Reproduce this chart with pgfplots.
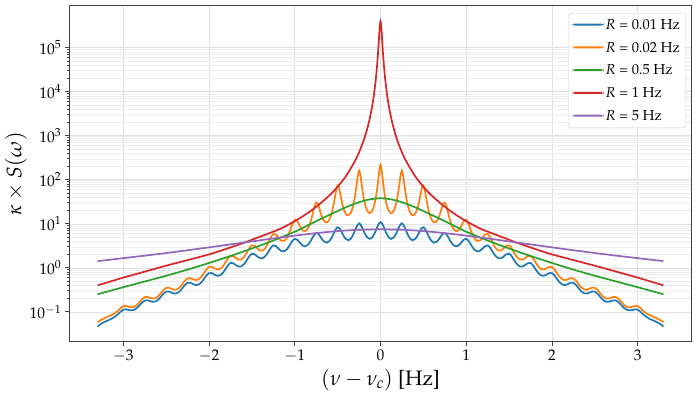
\documentclass[border=0pt]{standalone}
\usepackage[T1]{fontenc}
\usepackage{mathpazo}
\usepackage{pgfplots}
\pgfplotsset{compat=1.18}

\definecolor{tabblue}{HTML}{1F77B4}
\definecolor{taborange}{HTML}{FF7F0E}
\definecolor{tabgreen}{HTML}{2CA02C}
\definecolor{tabred}{HTML}{D62728}
\definecolor{tabpurple}{HTML}{9467BD}

\begin{document}
\begin{tikzpicture}
\useasboundingbox (-69.3bp,-53.3bp) rectangle (628.7bp,341.7bp);
\begin{axis}[
    scale only axis,
    width=622.4bp,
    height=336bp,
    ymode=log,
    xmin=-3.63, xmax=3.63,
    ymin=0.021, ymax=9.0e5,
    xtick={-3,...,3},
    ytick={1e-1,1,1e1,1e2,1e3,1e4,1e5},
    tick pos=left,
    tick align=outside,
    major tick length=4.5bp,
    minor tick length=2.5bp,
    every tick/.style={black!75, line width=0.8bp},
    axis line style={black!75, line width=1bp},
    grid=both,
    major grid style={black!12, line width=0.6bp},
    minor grid style={black!7, line width=0.5bp},
    ticklabel style={font=\fontsize{15.5}{18}\selectfont},
    label style={font=\fontsize{21}{25}\selectfont},
    xlabel={$(\nu-\nu_c)$ [Hz]},
    ylabel={$\kappa\times S(\omega)$},
    ylabel style={yshift=-4bp},
    legend cell align=left,
    legend style={at={(0.991,0.978)}, anchor=north east,
        font=\fontsize{14.5}{17}\selectfont,
        draw=black!20, fill=white,
        rounded corners=2.5bp, row sep=7.3bp, inner xsep=4bp, inner ysep=4bp},
    legend image code/.code={\fill[#1, draw=none] (0bp,-0.5bp) rectangle (31bp,1.5bp);},
]

% R = 0.01 Hz
\addplot[tabblue, line width=1.7bp, smooth] coordinates {
(-3.3,0.046) (-3.28125,0.050) (-3.25,0.055) (-3.21875,0.059) (-3.1875,0.063) (-3.15625,0.067) (-3.125,0.072) (-3.09375,0.079) (-3.0625,0.088) (-3.03125,0.101)
(-3,0.112) (-2.96875,0.114) (-2.9375,0.110) (-2.90625,0.108) (-2.875,0.111) (-2.84375,0.121) (-2.8125,0.140) (-2.78125,0.163)
(-2.75,0.180) (-2.71875,0.183) (-2.6875,0.175) (-2.65625,0.169) (-2.625,0.172) (-2.59375,0.188) (-2.5625,0.219) (-2.53125,0.259)
(-2.5,0.288) (-2.46875,0.290) (-2.4375,0.274) (-2.40625,0.261) (-2.375,0.264) (-2.34375,0.290) (-2.3125,0.341) (-2.28125,0.408)
(-2.25,0.457) (-2.21875,0.460) (-2.1875,0.430) (-2.15625,0.407) (-2.125,0.413) (-2.09375,0.459) (-2.0625,0.548) (-2.03125,0.668)
(-2,0.759) (-1.96875,0.760) (-1.9375,0.703) (-1.90625,0.661) (-1.875,0.670) (-1.84375,0.749) (-1.8125,0.907) (-1.78125,1.125)
(-1.75,1.288) (-1.71875,1.274) (-1.6875,1.157) (-1.65625,1.070) (-1.625,1.076) (-1.59375,1.20) (-1.5625,1.46) (-1.53125,1.82)
(-1.5,2.09) (-1.46875,2.04) (-1.4375,1.82) (-1.40625,1.66) (-1.375,1.65) (-1.34375,1.84) (-1.3125,2.24) (-1.28125,2.82)
(-1.25,3.24) (-1.21875,3.10) (-1.1875,2.70) (-1.15625,2.41) (-1.125,2.37) (-1.09375,2.61) (-1.0625,3.18) (-1.03125,4.00)
(-1,4.57) (-0.96875,4.32) (-0.9375,3.67) (-0.90625,3.19) (-0.875,3.08) (-0.84375,3.37) (-0.8125,4.14) (-0.78125,5.33)
(-0.75,6.17) (-0.71875,5.71) (-0.6875,4.64) (-0.65625,3.91) (-0.625,3.72) (-0.59375,4.09) (-0.5625,5.17) (-0.53125,6.97)
(-0.5,8.32) (-0.46875,7.37) (-0.4375,5.63) (-0.40625,4.55) (-0.375,4.24) (-0.34375,4.67) (-0.3125,6.00) (-0.28125,8.41)
(-0.25,10.23) (-0.21875,8.66) (-0.1875,6.29) (-0.15625,4.94) (-0.125,4.56) (-0.09375,5.00) (-0.0625,6.46) (-0.03125,9.08)
(0,10.96)
(0.03125,9.08) (0.0625,6.46) (0.09375,5.00) (0.125,4.56) (0.15625,4.94) (0.1875,6.29) (0.21875,8.66) (0.25,10.23)
(0.28125,8.41) (0.3125,6.00) (0.34375,4.67) (0.375,4.24) (0.40625,4.55) (0.4375,5.63) (0.46875,7.37) (0.5,8.32)
(0.53125,6.97) (0.5625,5.17) (0.59375,4.09) (0.625,3.72) (0.65625,3.91) (0.6875,4.64) (0.71875,5.71) (0.75,6.17)
(0.78125,5.33) (0.8125,4.14) (0.84375,3.37) (0.875,3.08) (0.90625,3.19) (0.9375,3.67) (0.96875,4.32) (1,4.57)
(1.03125,4.00) (1.0625,3.18) (1.09375,2.61) (1.125,2.37) (1.15625,2.41) (1.1875,2.70) (1.21875,3.10) (1.25,3.24)
(1.28125,2.82) (1.3125,2.24) (1.34375,1.84) (1.375,1.65) (1.40625,1.66) (1.4375,1.82) (1.46875,2.04) (1.5,2.09)
(1.53125,1.82) (1.5625,1.46) (1.59375,1.20) (1.625,1.076) (1.65625,1.070) (1.6875,1.157) (1.71875,1.274) (1.75,1.288)
(1.78125,1.125) (1.8125,0.907) (1.84375,0.749) (1.875,0.670) (1.90625,0.661) (1.9375,0.703) (1.96875,0.760) (2,0.759)
(2.03125,0.668) (2.0625,0.548) (2.09375,0.459) (2.125,0.413) (2.15625,0.407) (2.1875,0.430) (2.21875,0.460) (2.25,0.457)
(2.28125,0.408) (2.3125,0.341) (2.34375,0.290) (2.375,0.264) (2.40625,0.261) (2.4375,0.274) (2.46875,0.290) (2.5,0.288)
(2.53125,0.259) (2.5625,0.219) (2.59375,0.188) (2.625,0.172) (2.65625,0.169) (2.6875,0.175) (2.71875,0.183) (2.75,0.180)
(2.78125,0.163) (2.8125,0.140) (2.84375,0.121) (2.875,0.111) (2.90625,0.108) (2.9375,0.110) (2.96875,0.114) (3,0.112)
(3.03125,0.101) (3.0625,0.088) (3.09375,0.079) (3.125,0.072) (3.15625,0.067) (3.1875,0.063) (3.21875,0.059) (3.25,0.055) (3.28125,0.050) (3.3,0.046)
};
\addlegendentry{$R$ = 0.01 Hz}

% R = 0.02 Hz
\addplot[taborange, line width=1.7bp, smooth] coordinates {
(-3.3,0.058) (-3.28125,0.062) (-3.25,0.067) (-3.21875,0.072) (-3.1875,0.077) (-3.15625,0.082) (-3.125,0.087) (-3.09375,0.094) (-3.0625,0.106) (-3.03125,0.122)
(-3,0.135) (-2.96875,0.137) (-2.9375,0.131) (-2.90625,0.127) (-2.875,0.129) (-2.84375,0.142) (-2.8125,0.165) (-2.78125,0.194)
(-2.75,0.216) (-2.71875,0.219) (-2.6875,0.208) (-2.65625,0.200) (-2.625,0.204) (-2.59375,0.225) (-2.5625,0.264) (-2.53125,0.314)
(-2.5,0.351) (-2.46875,0.353) (-2.4375,0.333) (-2.40625,0.317) (-2.375,0.322) (-2.34375,0.356) (-2.3125,0.423) (-2.28125,0.510)
(-2.25,0.575) (-2.21875,0.584) (-2.1875,0.552) (-2.15625,0.528) (-2.125,0.542) (-2.09375,0.610) (-2.0625,0.739) (-2.03125,0.912)
(-2,1.047) (-1.96875,1.055) (-1.9375,0.980) (-1.90625,0.924) (-1.875,0.940) (-1.84375,1.056) (-1.8125,1.29) (-1.78125,1.61)
(-1.75,1.86) (-1.71875,1.85) (-1.6875,1.67) (-1.65625,1.54) (-1.625,1.55) (-1.59375,1.74) (-1.5625,2.15) (-1.53125,2.76)
(-1.5,3.24) (-1.46875,3.17) (-1.4375,2.78) (-1.40625,2.49) (-1.375,2.47) (-1.34375,2.80) (-1.3125,3.59) (-1.28125,4.86)
(-1.25,5.89) (-1.21875,5.68) (-1.1875,4.76) (-1.15625,4.15) (-1.125,4.11) (-1.09375,4.73) (-1.0625,6.38) (-1.03125,9.45)
(-1,12.3) (-0.984375,12.4) (-0.96875,11.4) (-0.953125,9.93) (-0.9375,8.64) (-0.921875,7.68) (-0.90625,7.09) (-0.890625,6.84)
(-0.875,6.92) (-0.859375,7.29) (-0.84375,8.09) (-0.828125,9.48) (-0.8125,11.7) (-0.796875,15.2) (-0.78125,20.3) (-0.765625,26.4)
(-0.75,30.5) (-0.734375,29.4) (-0.71875,24.4) (-0.703125,19.2) (-0.6875,15.4) (-0.671875,12.9) (-0.65625,11.5) (-0.640625,10.8)
(-0.625,10.8) (-0.609375,11.4) (-0.59375,12.8) (-0.578125,15.3) (-0.5625,19.8) (-0.546875,27.5) (-0.53125,40.7) (-0.515625,60.0)
(-0.5,74.1) (-0.484375,65.9) (-0.46875,47.4) (-0.453125,33.3) (-0.4375,24.7) (-0.421875,19.8) (-0.40625,17.1) (-0.390625,15.8)
(-0.375,15.7) (-0.359375,16.4) (-0.34375,18.5) (-0.328125,22.4) (-0.3125,29.6) (-0.296875,43.3) (-0.28125,70.1) (-0.265625,119.2)
(-0.25,162.2) (-0.234375,125.9) (-0.21875,75.2) (-0.203125,46.7) (-0.1875,32.1) (-0.171875,24.4) (-0.15625,20.2) (-0.140625,18.1)
(-0.125,17.4) (-0.109375,18.2) (-0.09375,20.3) (-0.078125,24.6) (-0.0625,32.7) (-0.046875,48.6) (-0.03125,82.1) (-0.015625,152.0)
(0,218.8)
(0.015625,152.0) (0.03125,82.1) (0.046875,48.6) (0.0625,32.7) (0.078125,24.6) (0.09375,20.3) (0.109375,18.2) (0.125,17.4)
(0.140625,18.1) (0.15625,20.2) (0.171875,24.4) (0.1875,32.1) (0.203125,46.7) (0.21875,75.2) (0.234375,125.9) (0.25,162.2)
(0.265625,119.2) (0.28125,70.1) (0.296875,43.3) (0.3125,29.6) (0.328125,22.4) (0.34375,18.5) (0.359375,16.4) (0.375,15.7)
(0.390625,15.8) (0.40625,17.1) (0.421875,19.8) (0.4375,24.7) (0.453125,33.3) (0.46875,47.4) (0.484375,65.9) (0.5,74.1)
(0.515625,60.0) (0.53125,40.7) (0.546875,27.5) (0.5625,19.8) (0.578125,15.3) (0.59375,12.8) (0.609375,11.4) (0.625,10.8)
(0.640625,10.8) (0.65625,11.5) (0.671875,12.9) (0.6875,15.4) (0.703125,19.2) (0.71875,24.4) (0.734375,29.4) (0.75,30.5)
(0.765625,26.4) (0.78125,20.3) (0.796875,15.2) (0.8125,11.7) (0.828125,9.48) (0.84375,8.09) (0.859375,7.29) (0.875,6.92)
(0.890625,6.84) (0.90625,7.09) (0.921875,7.68) (0.9375,8.64) (0.953125,9.93) (0.96875,11.4) (0.984375,12.4) (1,12.3)
(1.03125,9.45) (1.0625,6.38) (1.09375,4.73) (1.125,4.11) (1.15625,4.15) (1.1875,4.76) (1.21875,5.68) (1.25,5.89)
(1.28125,4.86) (1.3125,3.59) (1.34375,2.80) (1.375,2.47) (1.40625,2.49) (1.4375,2.78) (1.46875,3.17) (1.5,3.24)
(1.53125,2.76) (1.5625,2.15) (1.59375,1.74) (1.625,1.55) (1.65625,1.54) (1.6875,1.67) (1.71875,1.85) (1.75,1.86)
(1.78125,1.61) (1.8125,1.29) (1.84375,1.056) (1.875,0.940) (1.90625,0.924) (1.9375,0.980) (1.96875,1.055) (2,1.047)
(2.03125,0.912) (2.0625,0.739) (2.09375,0.610) (2.125,0.542) (2.15625,0.528) (2.1875,0.552) (2.21875,0.584) (2.25,0.575)
(2.28125,0.510) (2.3125,0.423) (2.34375,0.356) (2.375,0.322) (2.40625,0.317) (2.4375,0.333) (2.46875,0.353) (2.5,0.351)
(2.53125,0.314) (2.5625,0.264) (2.59375,0.225) (2.625,0.204) (2.65625,0.200) (2.6875,0.208) (2.71875,0.219) (2.75,0.216)
(2.78125,0.194) (2.8125,0.165) (2.84375,0.142) (2.875,0.129) (2.90625,0.127) (2.9375,0.131) (2.96875,0.137) (3,0.135)
(3.03125,0.122) (3.0625,0.106) (3.09375,0.094) (3.125,0.087) (3.15625,0.082) (3.1875,0.077) (3.21875,0.072) (3.25,0.067) (3.28125,0.062) (3.3,0.058)
};
\addlegendentry{$R$ = 0.02 Hz}

% R = 0.5 Hz
\addplot[tabgreen, line width=1.7bp, smooth] coordinates {
(-3.3,0.251) (-3,0.363) (-2.75,0.490) (-2.5,0.661) (-2.25,0.912) (-2,1.29) (-1.75,1.86) (-1.5,2.75) (-1.25,4.17)
(-1,6.61) (-0.875,8.7) (-0.75,11.5) (-0.625,15.0) (-0.5,19.5) (-0.375,25.1) (-0.25,30.9) (-0.125,35.9)
(0,38.0)
(0.125,35.9) (0.25,30.9) (0.375,25.1) (0.5,19.5) (0.625,15.0) (0.75,11.5) (0.875,8.7) (1,6.61)
(1.25,4.17) (1.5,2.75) (1.75,1.86) (2,1.29) (2.25,0.912) (2.5,0.661) (2.75,0.490) (3,0.363) (3.3,0.251)
};
\addlegendentry{$R$ = 0.5 Hz}

% R = 1 Hz
\addplot[tabred, line width=1.7bp, smooth] coordinates {
(-3.3,0.40) (-3.15,0.49) (-3,0.60) (-2.75,0.82) (-2.5,1.12) (-2.25,1.50) (-2,2.02) (-1.8,2.69) (-1.6,3.67) (-1.45,4.73) (-1.3,6.1) (-1.15,8.0)
(-1,11.5) (-0.9,15.1) (-0.75,24.3) (-0.6,43.4) (-0.5,69.6) (-0.4,124) (-0.3,262) (-0.25,420) (-0.2,747) (-0.16,1330) (-0.13,2260)
(-0.1,4390) (-0.08,7670) (-0.06,15500) (-0.045,30200) (-0.03,70500) (-0.02,140000) (-0.01,282000)
(0,402000)
(0.01,282000) (0.02,140000) (0.03,70500) (0.045,30200) (0.06,15500) (0.08,7670) (0.1,4390)
(0.13,2260) (0.16,1330) (0.2,747) (0.25,420) (0.3,262) (0.4,124) (0.5,69.6) (0.6,43.4) (0.75,24.3) (0.9,15.1) (1,11.5)
(1.15,8.0) (1.3,6.1) (1.45,4.73) (1.6,3.67) (1.8,2.69) (2,2.02) (2.25,1.50) (2.5,1.12) (2.75,0.82) (3,0.60) (3.15,0.49) (3.3,0.40)
};
\addlegendentry{$R$ = 1 Hz}

% R = 5 Hz
\addplot[tabpurple, line width=1.7bp, smooth] coordinates {
(-3.3,1.42) (-3,1.66) (-2.75,1.89) (-2.5,2.17) (-2.25,2.51) (-2,2.92) (-1.75,3.41) (-1.5,3.98) (-1.25,4.65)
(-1,5.39) (-0.75,6.14) (-0.5,6.83) (-0.25,7.32)
(0,7.5)
(0.25,7.32) (0.5,6.83) (0.75,6.14) (1,5.39) (1.25,4.65) (1.5,3.98) (1.75,3.41) (2,2.92)
(2.25,2.51) (2.5,2.17) (2.75,1.89) (3,1.66) (3.3,1.42)
};
\addlegendentry{$R$ = 5 Hz}

\end{axis}
\end{tikzpicture}
\end{document}
